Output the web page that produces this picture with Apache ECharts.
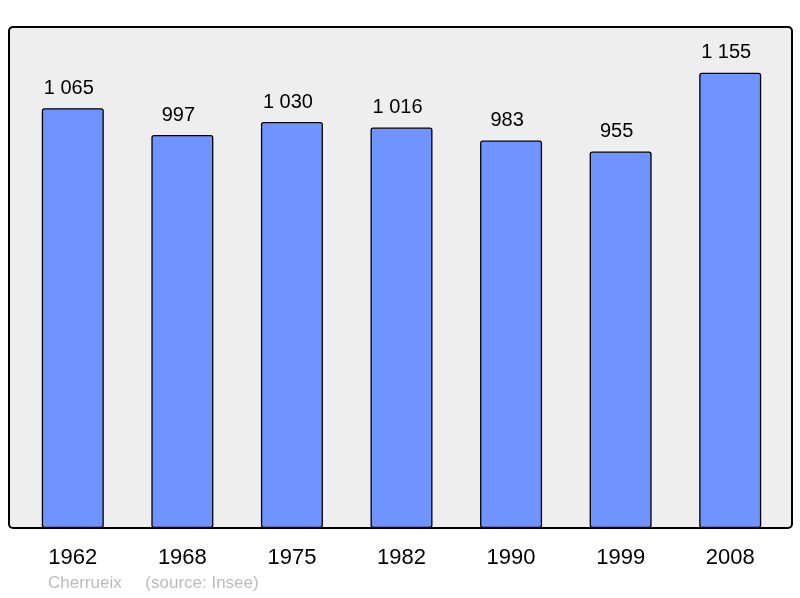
<!DOCTYPE html>
<html><head><meta charset="utf-8">
<script src="https://cdn.jsdelivr.net/npm/echarts@6/dist/echarts.min.js"></script>
<style>html,body{margin:0;padding:0;background:#fff}#c{width:800px;height:598px}</style>
</head><body><div id="c"></div>
<script>
const years = ['1962','1968','1975','1982','1990','1999','2008'];
const population = [1065, 997, 1030, 1016, 983, 955, 1155];
const footerText = 'Cherrueix     (source: Insee)';

function fmt(v){ return String(v).replace(/\B(?=(\d{3})+(?!\d))/g, ' '); }

const chart = echarts.init(document.getElementById('c'), null, {renderer:'canvas'});
chart.setOption({
  animation:false,
  textStyle:{fontFamily:'Liberation Sans, Arial, sans-serif'},
  graphic:[
    {type:'rect', z:-10, shape:{x:9,y:27,width:783,height:501,r:4},
     style:{fill:'#eeeeee', stroke:'#000', lineWidth:2}},
    {type:'text', left:48, top:575, style:{text:footerText, fill:'#bbbbbb', font:'17px Liberation Sans, Arial, sans-serif'}}
  ],
  grid:{left:18, right:15, top:27, bottom:70},
  xAxis:{type:'category', data:years, axisLine:{show:false}, axisTick:{show:false},
    axisLabel:{color:'#000', fontSize:22, margin:19}},
  yAxis:{type:'value', min:0, max:1271, show:false, splitLine:{show:false}},
  series:[{type:'bar', data:population, barWidth:62,
    itemStyle:{color:'#7094ff', borderColor:'#000', borderWidth:1.3, borderRadius:2},
    label:{show:true, position:'top', distance:10, offset:[-4,0], color:'#000', fontSize:20, formatter:p=>fmt(p.value)}}]
});
</script></body></html>
